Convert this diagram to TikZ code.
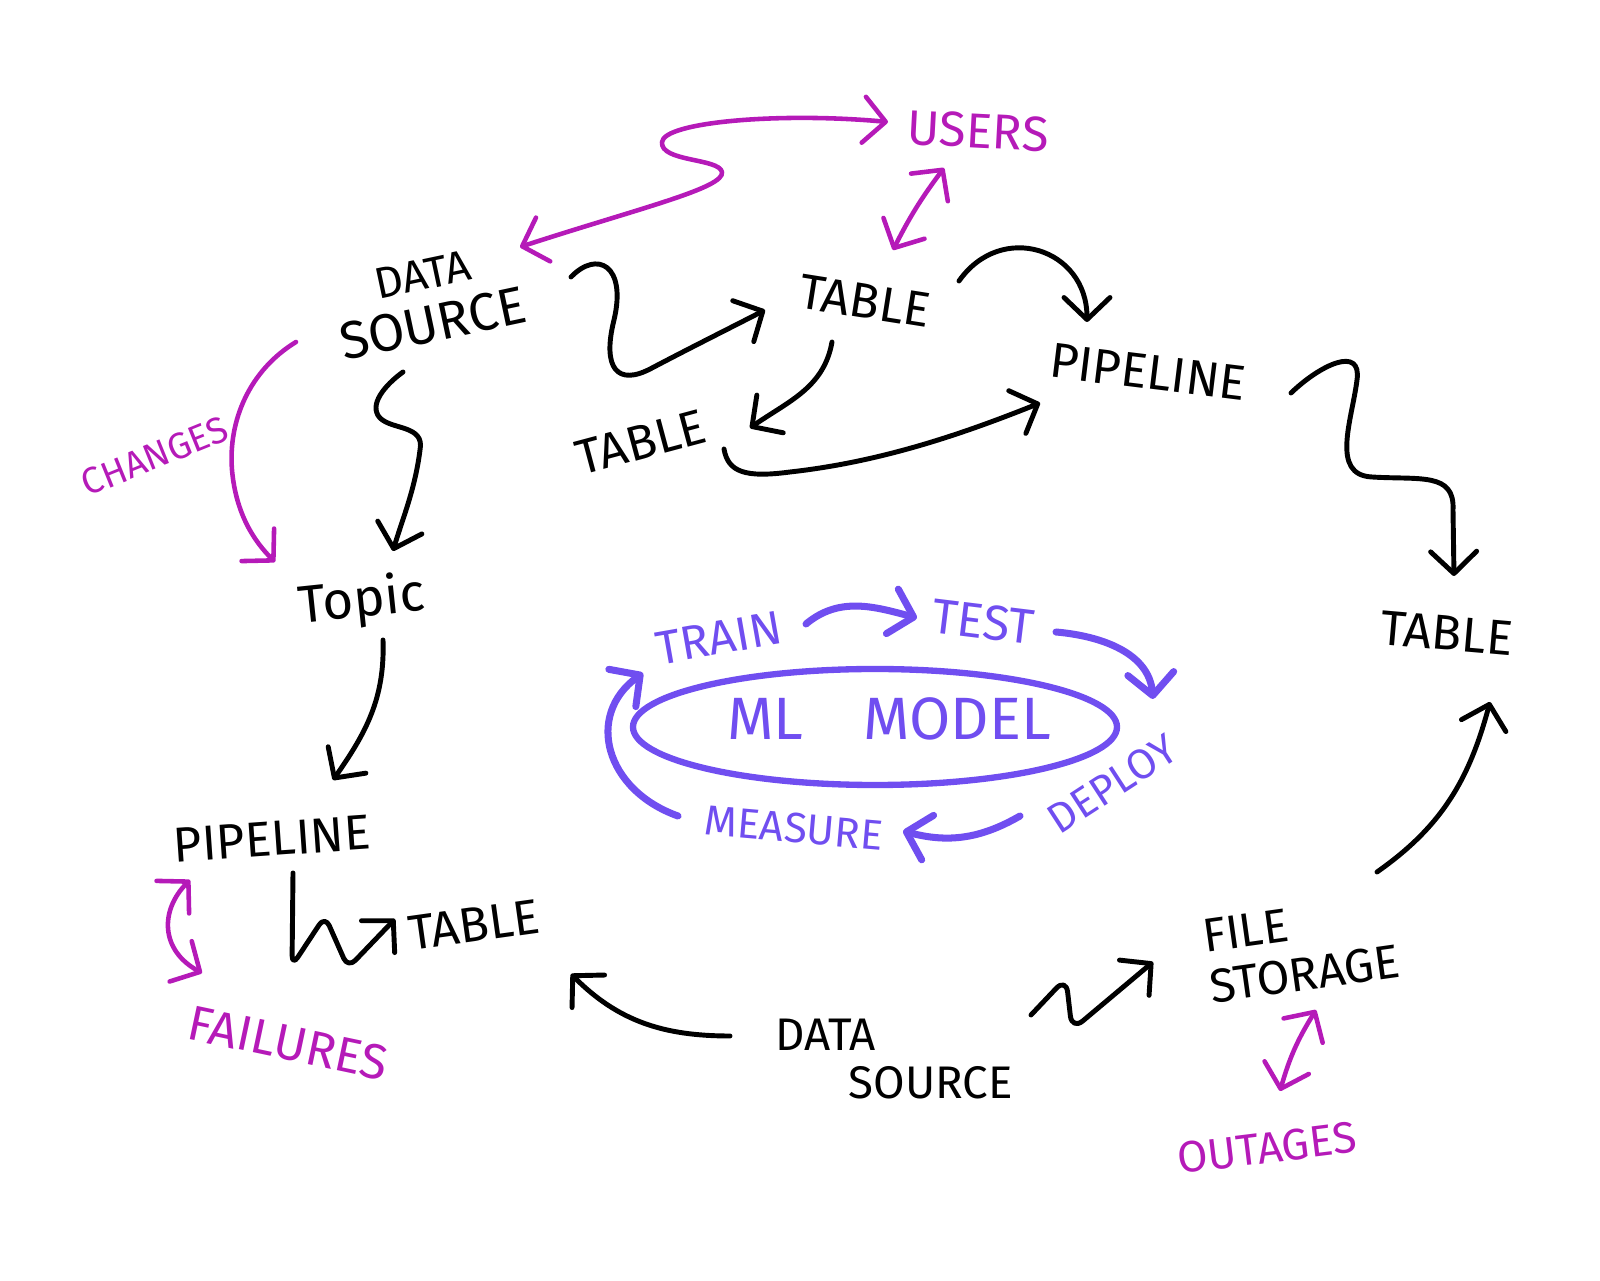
\documentclass[tikz,border=0pt]{standalone}
\usepackage{fontspec}
\setmainfont{Fira Sans}
\usetikzlibrary{arrows.meta, calc}
\definecolor{sketchPink}{RGB}{181,26,184}
\definecolor{sketchViolet}{RGB}{112,78,240}

\begin{document}
\begin{tikzpicture}[x=0.1mm, y=0.1mm,
    word/.style={inner sep=1pt, align=center, font=\fontsize{14}{15}\selectfont},
    pinkword/.style={word, text=sketchPink},
    violetword/.style={word, text=sketchViolet},
    blackflow/.style={line width=1.4pt, line cap=round, line join=round,
      -{Straight Barb[length=2.2mm, width=4.6mm, round]}},
    pinkflow/.style={blackflow, sketchPink, line width=1.3pt},
    bothways/.style={pinkflow,
      {Straight Barb[length=2.2mm, width=4.6mm, round]}-{Straight Barb[length=2.2mm, width=4.6mm, round]}},
    loopflow/.style={blackflow, sketchViolet, line width=2pt}]

  \useasboundingbox (0,0) rectangle (1600,1280);

  % sources, tables and pipelines
  \node[word, rotate=12, font=\fontsize{15}{15}\selectfont] (dsTop) at (428,979) {{\fontsize{12.5}{15}\selectfont DATA}\\SOURCE};
  \node[word, rotate=-9] (tabTop) at (865,979) {TABLE};
  \node[word, rotate=-7] (pipeTop) at (1148,908) {PIPELINE};
  \node[word, rotate=15] (tabMid) at (641,838) {TABLE};
  \node[word, rotate=6, font=\fontsize{15}{16}\selectfont] (topic) at (362,678) {Topic};
  \node[word, rotate=-5] (tabRight) at (1447,647) {TABLE};
  \node[word, rotate=4] (pipeLow) at (272,441) {PIPELINE};
  \node[word, rotate=8] (tabLow) at (474,355) {TABLE};
  \node[word, align=left, font=\fontsize{13}{13.5}\selectfont] (dsLow) at (894,221) {DATA\\\hspace*{1.6em}SOURCE};
  \node[word, align=left, rotate=8, font=\fontsize{13.5}{14.5}\selectfont] (fileSt) at (1301,331) {FILE\\STORAGE};

  % what goes wrong
  \node[pinkword, rotate=-3] (users) at (978,1149) {USERS};
  \node[pinkword, rotate=22, font=\fontsize{10.5}{12}\selectfont] (changes) at (155,824) {CHANGES};
  \node[pinkword, rotate=-12] (failures) at (288,237) {FAILURES};
  \node[pinkword, rotate=7, font=\fontsize{12.5}{14}\selectfont] (outages) at (1267,132) {OUTAGES};

  % the model loop
  \node[violetword, font=\fontsize{17}{19}\selectfont] (ml) at (889,561) {ML\hspace{1em}MODEL};
  \draw[sketchViolet, line width=1.8pt] ($(ml)+(-14,-8)$) ellipse [x radius=242, y radius=58];
  \node[violetword, rotate=10, font=\fontsize{13.5}{15}\selectfont] (train) at (719,642) {TRAIN};
  \node[violetword, rotate=-7] (test) at (983,658) {TEST};
  \node[violetword, rotate=33, font=\fontsize{12}{14}\selectfont] (deploy) at (1112,496) {DEPLOY};
  \node[violetword, rotate=-5, font=\fontsize{12}{14}\selectfont] (measure) at (794,452) {MEASURE};

  % black data flow
  \draw[blackflow] ($(dsTop)+(143,24)$) .. controls (597,1030) and (627,1015) .. (614,960)
    .. controls (602,912) and (617,893) .. (652,912)
    .. controls (690,932) and (730,952) .. ($(tabTop)+(-100,-9)$);
  \draw[blackflow] ($(tabTop)+(-33,-41)$) to[out=-100, in=35] ($(tabMid)+(109,14)$);
  \draw[blackflow] ($(tabMid)+(83,-7)$) .. controls (728,808) and (745,802) .. (790,808)
    .. controls (880,818) and (960,845) .. ($(pipeTop)+(-108,-31)$);
  \draw[blackflow] ($(tabTop)+(94,20)$) to[out=55, in=90, looseness=1.4] ($(pipeTop)+(-61,50)$);
  \draw[blackflow] ($(pipeTop)+(143,-21)$) .. controls (1320,915) and (1362,935) .. (1357,900)
    .. controls (1352,860) and (1330,805) .. (1372,803)
    .. controls (1420,800) and (1455,808) .. (1453,770) -- ($(tabRight)+(7,57)$);
  \draw[blackflow] ($(dsTop)+(-25,-71)$) .. controls (385,895) and (368,875) .. (380,862)
    .. controls (392,850) and (425,855) .. (420,830)
    .. controls (415,790) and (402,760) .. ($(topic)+(31,51)$);
  \draw[blackflow] ($(topic)+(21,-38)$) to[out=-88, in=55] ($(pipeLow)+(61,59)$);
  \draw[blackflow, rounded corners=3pt] ($(pipeLow)+(21,-34)$) -- (292,314) -- (325,364)
    -- (348,312) -- ($(tabLow)+(-79,6)$);
  \draw[blackflow] ($(dsLow)+(-164,23)$) to[out=180, in=-45] ($(tabLow)+(97,-49)$);
  \draw[blackflow, rounded corners=4pt] ($(dsLow)+(137,44)$) -- (1066,302) -- (1072,250)
    -- ($(fileSt)+(-148,-13)$);
  \draw[blackflow] ($(fileSt)+(76,77)$) to[out=35, in=-105] ($(tabRight)+(43,-69)$);

  % pink trouble arrows
  \draw[bothways] ($(dsTop)+(92,54)$) .. controls (640,1072) and (725,1092) .. (722,1108)
    .. controls (719,1122) and (660,1118) .. (662,1138)
    .. controls (664,1158) and (780,1168) .. ($(users)+(-90,9)$);
  \draw[bothways] ($(tabTop)+(28,51)$) to[bend left=5] ($(users)+(-34,-37)$);
  \draw[pinkflow] ($(dsTop)+(-132,-41)$) .. controls (250,910) and (228,860) .. (232,810)
    .. controls (236,765) and (255,738) .. ($(topic)+(-87,40)$);
  \draw[bothways] ($(pipeLow)+(-82,-41)$) .. controls (160,370) and (160,330) .. ($(failures)+(-86,70)$);
  \draw[bothways] ($(fileSt)+(15,-61)$) to[bend right=8] ($(outages)+(13,57)$);

  % violet loop arrows
  \draw[loopflow] ($(train)+(87,14)$) to[out=40, in=165] ($(test)+(-66,4)$);
  \draw[loopflow] ($(test)+(73,-10)$) to[out=-5, in=95] ($(deploy)+(41,85)$);
  \draw[loopflow] ($(deploy)+(-92,-32)$) to[out=-150, in=-15] ($(measure)+(109,-3)$);
  \draw[loopflow] ($(measure)+(-116,12)$) .. controls (605,490) and (585,565) .. ($(train)+(-76,-35)$);
\end{tikzpicture}
\end{document}
